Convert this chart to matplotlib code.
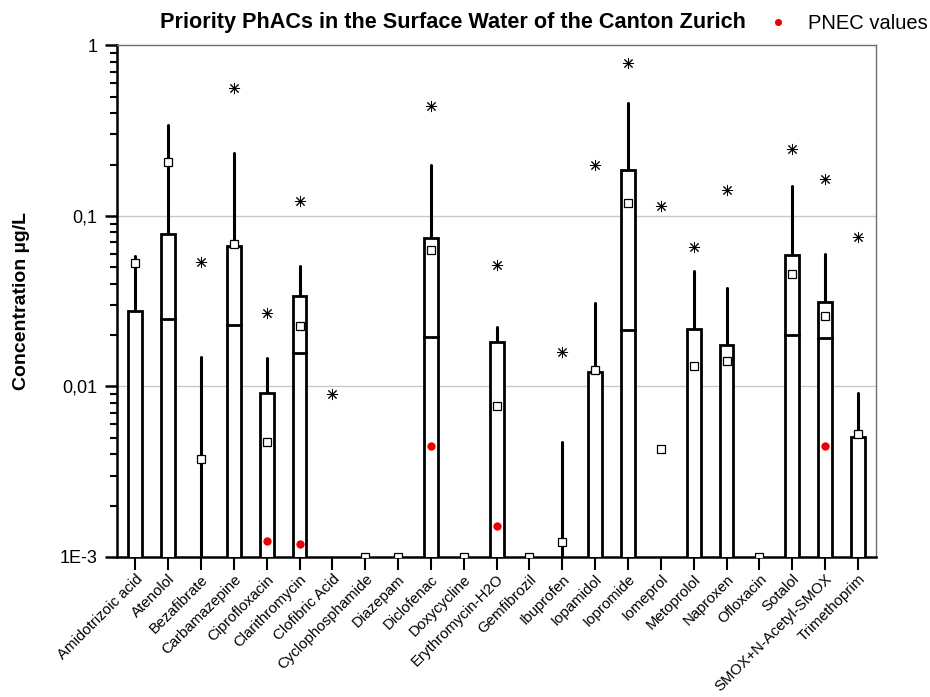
import numpy as np
import matplotlib
matplotlib.use("Agg")
import matplotlib.pyplot as plt
from matplotlib.ticker import FixedLocator, FixedFormatter, LogLocator, NullFormatter

plt.rcParams['font.family'] = ['Liberation Sans', 'DejaVu Sans']

nan = np.nan
categories = ["Amidotrizoic acid", "Atenolol", "Bezafibrate", "Carbamazepine", "Ciprofloxacin",
              "Clarithromycin", "Clofibric Acid", "Cyclophosphamide", "Diazepam", "Diclofenac",
              "Doxycycline", "Erythromycin-H2O", "Gemfibrozil", "Ibuprofen", "Iopamidol",
              "Iopromide", "Iomeprol", "Metoprolol", "Naproxen", "Ofloxacin", "Sotalol",
              "SMOX+N-Acetyl-SMOX", "Trimethoprim"]
# 75th percentile (box top)
q75 = [0.0275, 0.0785, nan, 0.0668, 0.0091, 0.0341, nan, nan, nan, 0.0743, nan, 0.0181, nan, nan,
       0.0121, 0.186, nan, 0.0218, 0.0176, nan, 0.0591, 0.0314, 0.00503]
# median
median = [nan, 0.0250, nan, 0.0230, nan, 0.0156, nan, nan, nan, 0.0194, nan, nan, nan, nan,
          nan, 0.0215, nan, nan, nan, nan, 0.0201, 0.0191, nan]
# whisker top
whisker = [0.0583, 0.340, 0.0148, 0.234, 0.0146, 0.0510, nan, nan, nan, 0.199, nan, 0.0224, nan, 0.00470,
           0.0310, 0.458, nan, 0.0477, 0.0379, nan, 0.150, 0.0600, 0.0091]
# mean
mean = [0.0531, 0.207, 0.00374, 0.0686, 0.00470, 0.0227, nan, 0.001, 0.001, 0.0632, 0.001, 0.00764, 0.001,
        0.00122, 0.0124, 0.119, 0.00428, 0.0131, 0.0140, 0.001, 0.0458, 0.0257, 0.00524]
# maximum
maximum = [nan, nan, 0.0538, 0.561, 0.0271, 0.122, 0.00898, nan, nan, 0.440, nan, 0.0517, nan, 0.0160,
           0.199, 0.785, 0.114, 0.0659, 0.142, nan, 0.246, 0.164, 0.0754]
# PNEC values
pnec = [nan, nan, nan, nan, 0.00124, 0.00119, nan, nan, nan, 0.00446, nan, 0.00152, nan, nan,
        nan, nan, nan, nan, nan, nan, nan, 0.00446, nan]

fig = plt.figure(figsize=(9.3, 6.97), dpi=100)
ax = fig.add_axes([0.126, 0.201, 0.816, 0.734])
ax.set_yscale('log')
ax.set_ylim(1e-3, 1)
ax.set_xlim(-0.55, len(categories) - 0.45)

x = np.arange(len(categories))
bottom = 1e-4
q75a = np.array(q75)
whia = np.array(whisker)
# whiskers
for i in range(len(categories)):
    if not np.isnan(whia[i]):
        base = q75a[i] if not np.isnan(q75a[i]) else bottom
        ax.plot([x[i], x[i]], [base, whia[i]], color='black', lw=2.2, zorder=2,
                solid_capstyle='round')
# boxes
heights = np.where(np.isnan(q75a), 0, q75a - bottom)
ax.bar(x, heights, bottom=bottom, width=0.42, facecolor='white', edgecolor='black',
       linewidth=2, zorder=3)
# medians
for i, m in enumerate(median):
    if not np.isnan(m):
        ax.plot([x[i] - 0.21, x[i] + 0.21], [m, m], color='black', lw=2, zorder=4)
# means
ax.plot(x, mean, linestyle='none', marker='s', markersize=6, markerfacecolor='white',
        markeredgecolor='black', markeredgewidth=0.9, zorder=5)
# maxima
ax.plot(x, maximum, linestyle='none', marker=(8, 2, 0), markersize=8, color='black',
        markeredgewidth=0.7, zorder=5)
# PNEC
pnec_line, = ax.plot(x, pnec, linestyle='none', marker='o', markersize=6, color='#ee0000',
                     markeredgewidth=0, zorder=6, label='PNEC values')

# grid
for g in [0.1, 0.01]:
    ax.axhline(g, color='#c8c8c8', lw=1, zorder=0)

# axes styling
ax.spines['left'].set_linewidth(1.8)
ax.spines['bottom'].set_linewidth(1.8)
ax.spines['top'].set_linewidth(1.0)
ax.spines['right'].set_linewidth(1.0)
ax.spines['top'].set_color('#707070')
ax.spines['right'].set_color('#707070')

ax.yaxis.set_major_locator(FixedLocator([1e-3, 1e-2, 1e-1, 1]))
ax.yaxis.set_major_formatter(FixedFormatter(["1E-3", "0,01", "0,1", "1"]))
ax.yaxis.set_minor_locator(LogLocator(base=10, subs=np.arange(2, 10)))
ax.yaxis.set_minor_formatter(NullFormatter())
ax.tick_params(axis='y', which='major', direction='out', length=9, width=1.8, labelsize=13, pad=5)
ax.tick_params(axis='y', which='minor', direction='out', length=5, width=1.5)

ax.set_xticks(x)
ax.set_xticklabels(categories, rotation=45, ha='right', rotation_mode='anchor', fontsize=10.8)
ax.tick_params(axis='x', which='major', direction='out', length=9, width=1.5, pad=2)

ax.set_ylabel("Concentration µg/L", fontsize=14, fontweight='bold')
ax.yaxis.set_label_coords(-0.115, 0.5)
fig.text(0.487, 0.968, "Priority PhACs in the Surface Water of the Canton Zurich",
         ha='center', va='center', fontsize=15.6, fontweight='bold')
fig.legend(handles=[pnec_line], labels=['PNEC values'], loc='center right',
           bbox_to_anchor=(1.011, 0.966), frameon=False, fontsize=14.5, handletextpad=1.0,
           handlelength=1.0, borderaxespad=0.2, markerscale=0.85)

fig.savefig("out.png", dpi=100)
